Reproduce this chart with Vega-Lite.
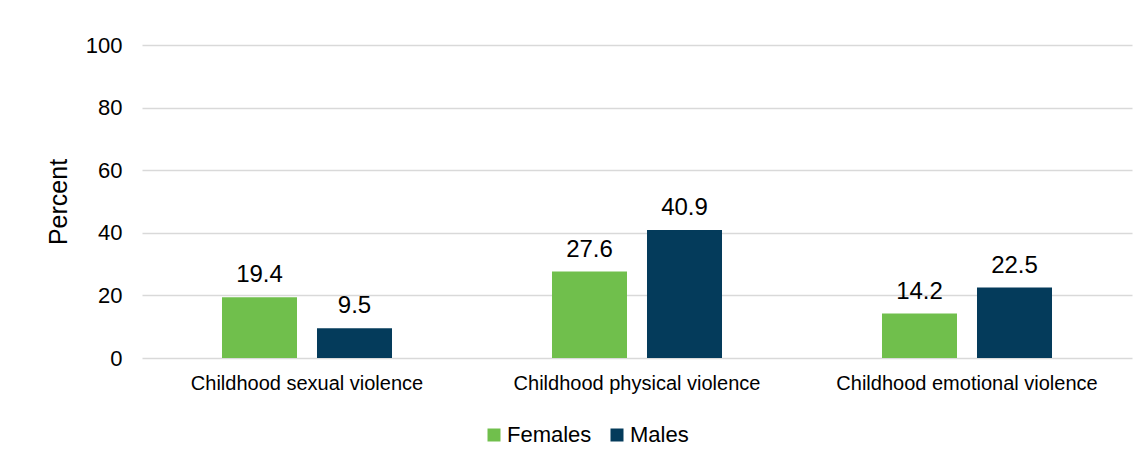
{
  "$schema": "https://vega.github.io/schema/vega-lite/v6.json",
  "autosize": {"type": "none"},
  "padding": {"left": 142, "top": 45, "right": 15, "bottom": 106},
  "width": 990,
  "height": 313,
  "background": "#ffffff",
  "config": {
    "view": {"stroke": null},
    "font": "Liberation Sans",
    "axis": {"labelColor": "#000000", "titleColor": "#000000", "labelFont": "Liberation Sans", "titleFont": "Liberation Sans"}
  },
  "data": {
    "values": [
      {"category": "Childhood sexual violence", "sex": "Females", "percent": 19.4},
      {"category": "Childhood sexual violence", "sex": "Males", "percent": 9.5},
      {"category": "Childhood physical violence", "sex": "Females", "percent": 27.6},
      {"category": "Childhood physical violence", "sex": "Males", "percent": 40.9},
      {"category": "Childhood emotional violence", "sex": "Females", "percent": 14.2},
      {"category": "Childhood emotional violence", "sex": "Males", "percent": 22.5}
    ]
  },
  "encoding": {
    "x": {
      "field": "category",
      "type": "nominal",
      "sort": ["Childhood sexual violence", "Childhood physical violence", "Childhood emotional violence"],
      "scale": {"paddingInner": 0, "paddingOuter": 0},
      "axis": {
        "title": null,
        "labelAngle": 0,
        "labelFontSize": 20,
        "labelLimit": 0,
        "labelPadding": 15,
        "ticks": false,
        "domain": false,
        "grid": false
      }
    },
    "xOffset": {
      "field": "sex",
      "type": "nominal",
      "sort": ["Females", "Males"],
      "scale": {"paddingInner": 0.2105, "paddingOuter": 0.842}
    },
    "y": {
      "field": "percent",
      "type": "quantitative",
      "scale": {"domain": [0, 100], "nice": false},
      "axis": {
        "title": "Percent",
        "titleFontSize": 25,
        "titleFontWeight": "normal",
        "titlePadding": 14,
        "values": [0, 20, 40, 60, 80, 100],
        "labelFontSize": 22,
        "labelPadding": 20,
        "ticks": false,
        "domain": false,
        "gridColor": "#d9d9d9",
        "gridWidth": 1.6
      }
    }
  },
  "layer": [
    {
      "mark": {"type": "bar"},
      "encoding": {
        "color": {
          "field": "sex",
          "type": "nominal",
          "sort": ["Females", "Males"],
          "scale": {"domain": ["Females", "Males"], "range": ["#70BF4C", "#043B5B"]},
          "legend": {
            "title": null,
            "orient": "none",
            "legendX": 341,
            "legendY": 379,
            "direction": "horizontal",
            "labelFontSize": 22,
            "labelColor": "#000000",
            "labelFont": "Liberation Sans",
            "symbolType": "square",
            "symbolSize": 169,
            "symbolStrokeWidth": 0,
            "labelOffset": 2,
            "columnPadding": 14
          }
        }
      }
    },
    {
      "mark": {"type": "text", "baseline": "alphabetic", "dy": -15, "fontSize": 24, "color": "#000000", "font": "Liberation Sans"},
      "encoding": {
        "text": {"field": "percent", "type": "quantitative", "format": ".1f"}
      }
    }
  ]
}
